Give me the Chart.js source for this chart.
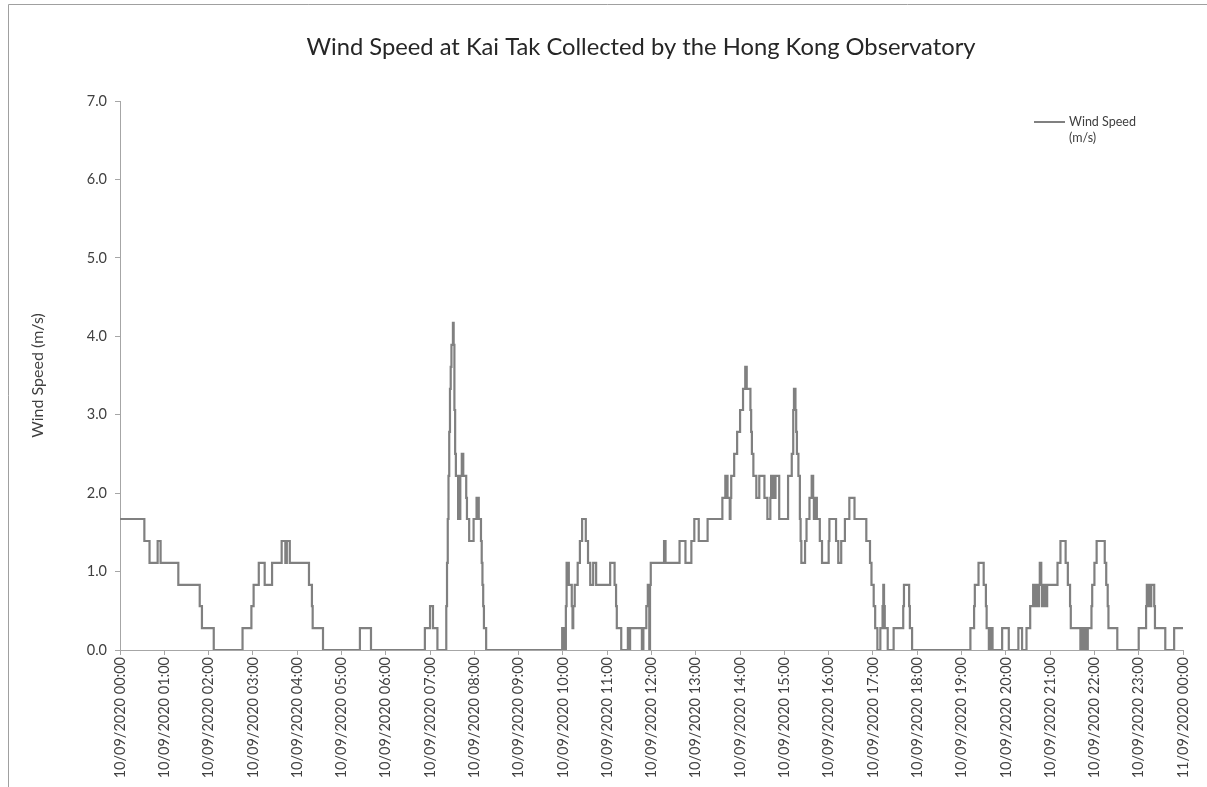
<!DOCTYPE html>
<html>
<head>
<meta charset="utf-8">
<script src="https://cdn.jsdelivr.net/npm/chart.js@4.4.1/dist/chart.umd.min.js"></script>
<style>
  html, body { margin: 0; padding: 0; background: #fff; }
  #chart { display: block; }
</style>
</head>
<body>
<canvas id="chart" width="1207" height="787"></canvas>
<script>
// tick labels, one per hour
const timeLabels = [
  "10/09/2020 00:00", "10/09/2020 01:00", "10/09/2020 02:00", "10/09/2020 03:00",
  "10/09/2020 04:00", "10/09/2020 05:00", "10/09/2020 06:00", "10/09/2020 07:00",
  "10/09/2020 08:00", "10/09/2020 09:00", "10/09/2020 10:00", "10/09/2020 11:00",
  "10/09/2020 12:00", "10/09/2020 13:00", "10/09/2020 14:00", "10/09/2020 15:00",
  "10/09/2020 16:00", "10/09/2020 17:00", "10/09/2020 18:00", "10/09/2020 19:00",
  "10/09/2020 20:00", "10/09/2020 21:00", "10/09/2020 22:00", "10/09/2020 23:00",
  "11/09/2020 00:00"
];

// minute of the day at which the reading changes
const changeMinutes = [
  0, 33, 40, 51, 55, 79, 108, 111, 127, 166,
  178, 181, 188, 196, 206, 219, 224, 226, 230, 256,
  260, 261, 275, 325, 340, 413, 420, 424, 430, 442,
  443, 444, 445, 446, 447, 448, 449, 451, 452, 453,
  454, 455, 458, 461, 463, 465, 469, 470, 473, 479,
  483, 486, 489, 490, 491, 492, 493, 496, 599, 602,
  604, 605, 608, 612, 613, 614, 616, 620, 623, 626,
  631, 634, 637, 641, 645, 664, 670, 672, 673, 679,
  688, 689, 691, 707, 709, 713, 715, 717, 718, 719,
  737, 739, 758, 766, 774, 778, 784, 796, 816, 820,
  823, 826, 827, 828, 832, 836, 840, 844, 847, 849,
  854, 855, 856, 858, 862, 866, 873, 877, 881, 882,
  885, 888, 893, 905, 910, 912, 913, 915, 916, 917,
  919, 921, 922, 923, 928, 930, 934, 937, 939, 940,
  941, 944, 948, 951, 960, 961, 970, 973, 977, 982,
  988, 995, 1011, 1016, 1018, 1021, 1023, 1026, 1030, 1033,
  1034, 1035, 1036, 1040, 1048, 1061, 1062, 1069, 1070, 1073,
  1152, 1157, 1158, 1163, 1170, 1173, 1174, 1177, 1180, 1182,
  1195, 1204, 1217, 1222, 1228, 1233, 1237, 1239, 1240, 1242,
  1245, 1246, 1248, 1249, 1251, 1252, 1254, 1255, 1256, 1270,
  1274, 1281, 1284, 1287, 1288, 1301, 1304, 1305, 1307, 1308,
  1311, 1316, 1317, 1320, 1323, 1334, 1336, 1338, 1339, 1351,
  1380, 1390, 1391, 1393, 1394, 1395, 1397, 1401, 1402, 1416,
  1428, 1440
];

// wind speed (m/s) from that minute on
const speedValues = [
  1.67, 1.39, 1.11, 1.39, 1.11, 0.83, 0.56, 0.28, 0, 0.28,
  0.56, 0.83, 1.11, 0.83, 1.11, 1.39, 1.11, 1.39, 1.11, 0.83,
  0.56, 0.28, 0, 0.28, 0, 0.28, 0.56, 0.28, 0, 0.56,
  1.11, 1.67, 2.22, 2.78, 3.33, 3.61, 3.89, 4.17, 3.89, 3.06,
  2.5, 2.22, 1.67, 2.22, 2.5, 2.22, 1.94, 1.67, 1.39, 1.67,
  1.94, 1.67, 1.39, 1.11, 0.83, 0.56, 0.28, 0, 0.28, 0,
  0.56, 1.11, 0.83, 0.56, 0.28, 0.56, 0.83, 1.11, 1.39, 1.67,
  1.39, 1.11, 0.83, 1.11, 0.83, 1.11, 0.83, 0.56, 0.28, 0,
  0.28, 0, 0.28, 0, 0.28, 0.56, 0.83, 0, 0.83, 1.11,
  1.39, 1.11, 1.39, 1.11, 1.39, 1.67, 1.39, 1.67, 1.94, 2.22,
  1.94, 1.67, 1.94, 2.22, 2.5, 2.78, 3.06, 3.33, 3.61, 3.33,
  3.06, 2.78, 2.5, 2.22, 1.94, 2.22, 1.94, 1.67, 1.94, 2.22,
  1.94, 2.22, 1.67, 2.22, 2.5, 3.06, 3.33, 3.06, 2.78, 2.5,
  2.22, 1.67, 1.39, 1.11, 1.39, 1.67, 1.94, 2.22, 1.94, 1.67,
  1.94, 1.67, 1.39, 1.11, 1.39, 1.67, 1.39, 1.11, 1.39, 1.67,
  1.94, 1.67, 1.39, 1.11, 0.83, 0.56, 0.28, 0, 0.28, 0.56,
  0.83, 0.56, 0.28, 0, 0.28, 0.56, 0.83, 0.56, 0.28, 0,
  0.28, 0.56, 0.83, 1.11, 0.83, 0.56, 0.28, 0, 0.28, 0,
  0.28, 0, 0.28, 0, 0.28, 0.56, 0.83, 0.56, 0.83, 0.56,
  0.83, 1.11, 0.83, 0.56, 0.83, 0.56, 0.83, 0.56, 0.83, 1.11,
  1.39, 1.11, 0.83, 0.56, 0.28, 0, 0.28, 0, 0.28, 0,
  0.28, 0.56, 0.83, 1.11, 1.39, 1.11, 0.83, 0.56, 0.28, 0,
  0.28, 0.56, 0.83, 0.56, 0.83, 0.56, 0.83, 0.56, 0.28, 0,
  0.28, 0.28
];

const chartTitle = "Wind Speed at Kai Tak Collected by the Hong Kong Observatory";

const FONT = "Lato, 'Open Sans', sans-serif";
const AXIS_GREY = "#a6a6a6";
const LINE_GREY = "#808080";
const TEXT = "#404040";

// frame, title (centred on the whole original chart, which is wider
// than the window) and a two-line legend like the original
const chartDecor = {
  id: "chartDecor",
  beforeDraw(chart) {
    const ctx = chart.ctx;
    ctx.save();
    ctx.fillStyle = "#fff";
    ctx.fillRect(0, 0, chart.width, chart.height);
    ctx.strokeStyle = "#a0a0a0";
    ctx.lineWidth = 1;
    ctx.beginPath();
    ctx.moveTo(8.5, chart.height);
    ctx.lineTo(8.5, 4.5);
    ctx.lineTo(chart.width, 4.5);
    ctx.stroke();
    ctx.restore();
  },
  afterDraw(chart) {
    const ctx = chart.ctx;
    const ds = chart.data.datasets[0];
    const parts = ds.label.split(" (");
    ctx.save();
    ctx.fillStyle = "#262626";
    ctx.font = "23.75px " + FONT;
    ctx.textAlign = "center";
    ctx.textBaseline = "middle";
    ctx.fillText(chartTitle, 641, 47);

    ctx.strokeStyle = ds.borderColor;
    ctx.lineWidth = 2;
    ctx.beginPath();
    ctx.moveTo(1034, 122);
    ctx.lineTo(1065, 122);
    ctx.stroke();
    ctx.fillStyle = TEXT;
    ctx.font = "12.5px " + FONT;
    ctx.textAlign = "left";
    ctx.fillText(parts[0], 1069, 122);
    ctx.fillText("(" + parts[1], 1069, 138);
    ctx.restore();
  }
};

const points = changeMinutes.map((m, i) => ({ x: m, y: speedValues[i] }));

new Chart(document.getElementById("chart"), {
  type: "line",
  data: {
    datasets: [{
      label: "Wind Speed (m/s)",
      data: points,
      stepped: true,
      borderColor: LINE_GREY,
      borderWidth: 2.2,
      pointRadius: 0,
      fill: false
    }]
  },
  options: {
    responsive: false,
    animation: false,
    devicePixelRatio: 1,
    layout: { padding: { left: 0, right: 24, top: 101, bottom: 0 } },
    plugins: {
      legend: { display: false },
      tooltip: { enabled: false },
      title: { display: false }
    },
    scales: {
      x: {
        type: "linear",
        min: 0,
        max: 1440,
        afterFit(scale) { scale.height = 137; },
        grid: { drawOnChartArea: false, drawTicks: true, tickLength: 5, color: AXIS_GREY },
        border: { display: true, color: AXIS_GREY },
        ticks: {
          stepSize: 60,
          autoSkip: false,
          maxRotation: 90,
          minRotation: 90,
          padding: 2,
          color: TEXT,
          font: { family: FONT, size: 14.5 },
          callback: (v) => timeLabels[v / 60]
        }
      },
      y: {
        min: 0,
        max: 7,
        afterFit(scale) { scale.width = 120; },
        grid: { drawOnChartArea: false, drawTicks: true, tickLength: 5, color: AXIS_GREY },
        border: { display: true, color: AXIS_GREY },
        ticks: {
          stepSize: 1,
          padding: 8,
          color: TEXT,
          font: { family: FONT, size: 14.5 },
          callback: (v) => v.toFixed(1)
        },
        title: {
          display: true,
          text: "Wind Speed (m/s)",
          color: TEXT,
          font: { family: FONT, size: 16 },
          padding: { top: 28, bottom: 0 }
        }
      }
    }
  },
  plugins: [chartDecor]
});
</script>
</body>
</html>
